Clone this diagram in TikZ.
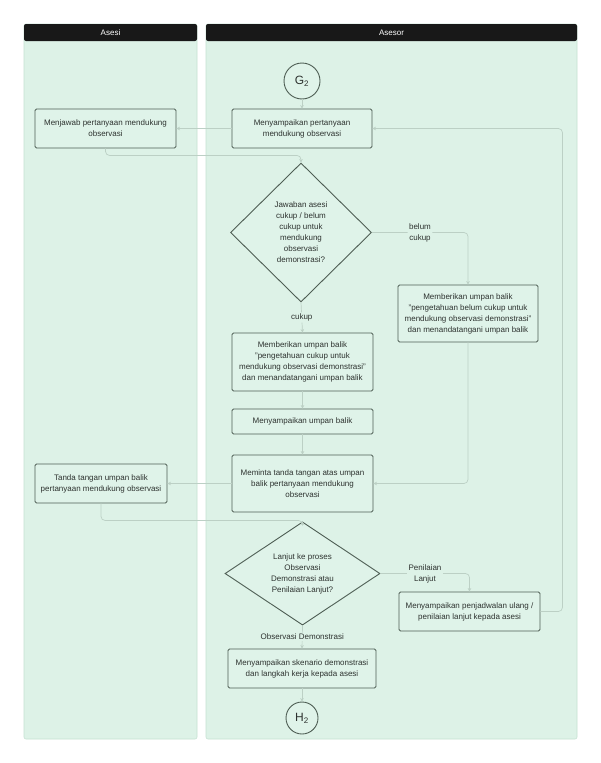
\documentclass[tikz,border=0pt]{standalone}
\usepackage{fontspec}
\setmainfont{Liberation Sans}
\usepackage{tikz}
\usetikzlibrary{shapes.geometric}
\usetikzlibrary{arrows.meta}
\definecolor{lanebg}{RGB}{221,242,231}
\definecolor{laneline}{RGB}{198,226,211}
\definecolor{headbg}{RGB}{24,24,24}
\definecolor{boxbg}{RGB}{223,243,233}
\definecolor{boxline}{RGB}{78,94,84}
\definecolor{linkcol}{RGB}{188,208,197}
\definecolor{txt}{RGB}{45,50,47}

\begin{document}
\begin{tikzpicture}[x=1pt, y=-1pt,
	lane/.style={fill=lanebg, draw=laneline, line width=0.6pt, rounded corners=2pt},
	lanehead/.style={fill=headbg, text=white, rounded corners=2pt, inner sep=0pt, font=\fontsize{8}{10}\selectfont},
	box/.style={rectangle, fill=boxbg, draw=boxline, line width=0.9pt, rounded corners=1.5pt, align=center, inner sep=0pt, text=txt, font=\fontsize{8}{11}\selectfont},
	decision/.style={diamond, fill=boxbg, draw=boxline, line width=0.9pt, align=center, inner sep=0pt, text=txt, font=\fontsize{8}{11}\selectfont},
	terminal/.style={circle, fill=boxbg, draw=boxline, line width=0.9pt, inner sep=0pt, text=txt, font=\fontsize{12}{14}\selectfont},
	link/.style={draw=linkcol, line width=0.7pt, rounded corners=4pt, -{Stealth[length=3.5pt, width=3.5pt]}},
	tag/.style={fill=lanebg, align=center, inner sep=1.5pt, text=txt, font=\fontsize{8}{11}\selectfont}]
	\useasboundingbox [fill=white] (0,0) rectangle (600,763);

	% lanes
	\draw [lane] (24,24) rectangle (197,739);
	\draw [lane] (206,24) rectangle (577,739);
	\node [lanehead, minimum width=173pt, minimum height=17pt] (asesi) at (110.5,32.5) {Asesi};
	\node [lanehead, minimum width=371pt, minimum height=17pt] (asesor) at (391.5,32.5) {Asesor};

	\node [terminal, minimum size=36pt] (g2) at (302, 81) {G\textsubscript{2}};
	\node [box, minimum width=140pt, minimum height=39pt] (ask) at (302, 128.5) {Menyampaikan pertanyaan\\mendukung observasi};
	\node [box, minimum width=141pt, minimum height=39pt] (answer) at (105.5, 128.5) {Menjawab pertanyaan mendukung\\observasi};

	\node [decision, minimum width=141pt, minimum height=139pt] (dec1) at (301, 232.5) {Jawaban asesi\\cukup / belum\\cukup untuk\\mendukung\\observasi\\demonstrasi?};
	\node [box, minimum width=140pt, minimum height=57pt] (fbno) at (468, 313.5) {Memberikan umpan balik\\"pengetahuan belum cukup untuk\\mendukung observasi demonstrasi"\\dan menandatangani umpan balik};
	\node [box, minimum width=141pt, minimum height=58pt] (fbyes) at (302.5, 362) {Memberikan umpan balik\\"pengetahuan cukup untuk\\mendukung observasi demonstrasi"\\dan menandatangani umpan balik};
	\node [box, minimum width=141pt, minimum height=25pt] (tell) at (302.5, 421.5) {Menyampaikan umpan balik};
	\node [box, minimum width=141pt, minimum height=57pt] (sign) at (302.5, 483.5) {Meminta tanda tangan atas umpan\\balik pertanyaan mendukung\\observasi};
	\node [box, minimum width=132pt, minimum height=39pt] (signA) at (101, 483.5) {Tanda tangan umpan balik\\pertanyaan mendukung observasi};

	\node [decision, minimum width=155pt, minimum height=93pt] (dec2) at (302.5, 573.5) {Lanjut ke proses\\Observasi\\Demonstrasi atau\\Penilaian Lanjut?};
	\node [box, minimum width=141pt, minimum height=39pt] (resched) at (469.5, 611.5) {Menyampaikan penjadwalan ulang /\\penilaian lanjut kepada asesi};
	\node [box, minimum width=148pt, minimum height=39pt] (scen) at (302, 668.5) {Menyampaikan skenario demonstrasi\\dan langkah kerja kepada asesi};
	\node [terminal, minimum size=32pt] (h2) at (302, 718) {H\textsubscript{2}};

	\draw [link] (g2) to (ask);
	\draw [link] (ask) to (answer);
	\draw [link] (answer.south) -- ++(0,7) -| (dec1.north);

	\draw [link] (dec1.east) -| (fbno.north) node [tag, pos=0.25] {belum\\cukup};
	\draw [link] (dec1.south) -- (fbyes.north) node [tag, midway] {cukup};
	\draw [link] (fbyes) to (tell);
	\draw [link] (tell) to (sign);
	\draw [link] (fbno.south) |- (sign.east);
	\draw [link] (sign.west) -- (signA.east);
	\draw [link] (signA.south) -- ++(0,17) -| (dec2.north);

	\draw [link] (dec2.east) -| (resched.north) node [tag, pos=0.25] {Penilaian\\Lanjut};
	\draw [link] (dec2.south) -- (scen.north) node [tag, midway] {Observasi Demonstrasi};
	\draw [link] (resched.east) -- ++(22,0) |- (ask.east);
	\draw [link] (scen) to (h2);
\end{tikzpicture}
\end{document}
